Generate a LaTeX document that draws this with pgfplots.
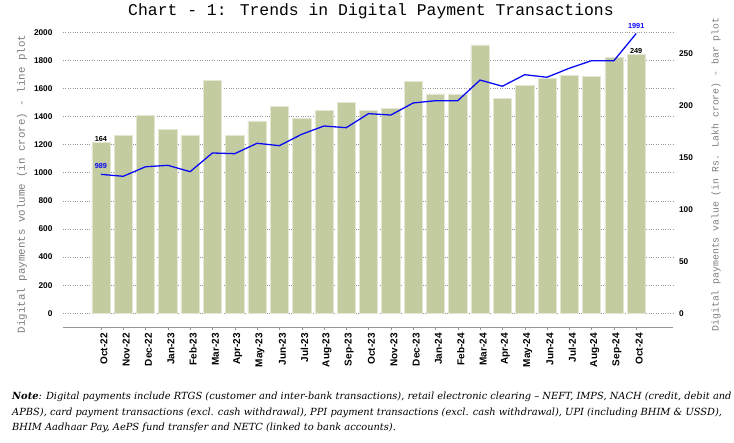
\documentclass[border=0pt]{standalone}
\usepackage{fontspec}
\setmainfont{Liberation Sans}
\newfontfamily\monofont{Liberation Mono}
\newfontfamily\notefont{DejaVu Serif}
\usepackage{pgfplots}
\usepackage{pgfplotstable}
\pgfplotsset{compat=1.18}

\definecolor{barfill}{RGB}{195,203,161}
\definecolor{baredge}{RGB}{228,232,210}
\definecolor{linecol}{RGB}{10,10,245}
\definecolor{gridcol}{RGB}{150,150,150}
\definecolor{labelgray}{RGB}{125,125,125}

% idx, month, value (Rs lakh crore, bars), volume (crore, line), labels
\pgfplotstableread{
idx month  bars line blab llab
0  Oct-22  164  989  164  989
1  Nov-22  171  975  {}   {}
2  Dec-22  190  1043 {}   {}
3  Jan-23  177  1053 {}   {}
4  Feb-23  171  1008 {}   {}
5  Mar-23  224  1141 {}   {}
6  Apr-23  171  1136 {}   {}
7  May-23  185  1210 {}   {}
8  Jun-23  199  1193 {}   {}
9  Jul-23  188  1274 {}   {}
10 Aug-23  195  1333 {}   {}
11 Sep-23  203  1321 {}   {}
12 Oct-23  195  1421 {}   {}
13 Nov-23  197  1411 {}   {}
14 Dec-23  223  1497 {}   {}
15 Jan-24  211  1513 {}   {}
16 Feb-24  211  1513 {}   {}
17 Mar-24  258  1660 {}   {}
18 Apr-24  207  1616 {}   {}
19 May-24  219  1698 {}   {}
20 Jun-24  226  1680 {}   {}
21 Jul-24  229  1744 {}   {}
22 Aug-24  228  1798 {}   {}
23 Sep-24  246  1798 {}   {}
24 Oct-24  249  1991 249  1991
}\data

\pgfplotsset{
  base/.style={
    scale only axis, width=610pt, height=281pt,
    at={(63pt,129.7pt)}, anchor=south west,
    xmin=-1.7, xmax=25.65,
    axis line style={draw=none}, major tick length=0pt,
    xtick=\empty,
    /pgf/number format/assume math mode=true,
    /pgf/number format/1000 sep={},
    tick label style={font=\bfseries\fontsize{8.3}{9}\selectfont},
  },
}

\begin{document}
\begin{tikzpicture}
\useasboundingbox (0,0) rectangle (734pt,443pt);

% grid and left ticks
\begin{axis}[base, ymin=0, ymax=2000, ytick={0,200,...,2000},
  ymajorgrids, grid style={gridcol, dotted, line width=0.6pt},
  yticklabel style={xshift=-7pt}]
\addplot[draw=none] coordinates {(0,0)};
\end{axis}

% bars, right axis
\begin{axis}[base, ymin=0, ymax=270.2, ytick={0,50,...,250},
  yticklabel pos=right, yticklabel style={xshift=2.5pt}]
\addplot[ybar, bar width=18.3pt, fill=barfill, draw=baredge, line width=0.5pt,
  nodes near coords, point meta=explicit symbolic,
  every node near coord/.append style={font=\bfseries\fontsize{7.3}{8}\selectfont,
    text=black, anchor=south, inner sep=0.8pt}]
  table[x=idx, y=bars, meta=blab] {\data};
\end{axis}

% line, left scale
\begin{axis}[base, ymin=0, ymax=2000, hide axis]
\addplot[linecol, line width=1.3pt, mark=none,
  nodes near coords, point meta=explicit symbolic,
  every node near coord/.append style={font=\bfseries\fontsize{7.3}{8}\selectfont,
    text=linecol, anchor=south, inner sep=0.8pt, yshift=4pt}]
  table[x=idx, y=line, meta=llab] {\data};
\end{axis}

% detached x axis with month labels
\begin{axis}[scale only axis, width=610pt, height=10pt,
  at={(63pt,115.3pt)}, anchor=south west,
  xmin=-1.7, xmax=25.65, ymin=0, ymax=1,
  axis x line*=bottom, axis y line=none,
  x axis line style={-, gridcol, line width=0.8pt},
  xtick={0,...,24}, xticklabels from table={\data}{month},
  tick align=outside, major tick length=2pt, tick style={gridcol},
  xticklabel style={xshift=3pt, rotate=90, anchor=east,
    font=\bfseries\fontsize{10}{11}\selectfont}]
\addplot[draw=none] coordinates {(0,0)};
\end{axis}

% title and axis titles
\node[anchor=base, font=\monofont\fontsize{16.4}{17}\selectfont] at (371pt,427pt)
  {Chart - 1: Trends in Digital Payment Transactions};
\node[rotate=90, text=labelgray, font=\monofont\fontsize{10.8}{12}\selectfont]
  at (22pt,259pt) {Digital payments volume (in crore) - line plot};
\node[rotate=90, text=labelgray, font=\monofont\fontsize{9.8}{11}\selectfont]
  at (716pt,268.5pt) {Digital payments value (in Rs. Lakh crore) - bar plot};

% note
\begin{scope}[every node/.style={anchor=west, inner sep=0pt,
    font=\notefont\itshape\fontsize{9.85}{11}\selectfont}]
\node at (12pt,46pt) {\textbf{Note}: Digital payments include RTGS (customer and inter-bank transactions), retail electronic clearing – NEFT, IMPS, NACH (credit, debit and};
\node at (12pt,30.5pt) {APBS), card payment transactions (excl. cash withdrawal), PPI payment transactions (excl. cash withdrawal), UPI (including BHIM \& USSD),};
\node at (12pt,15pt) {BHIM Aadhaar Pay, AePS fund transfer and NETC (linked to bank accounts).};
\end{scope}
\end{tikzpicture}
\end{document}
